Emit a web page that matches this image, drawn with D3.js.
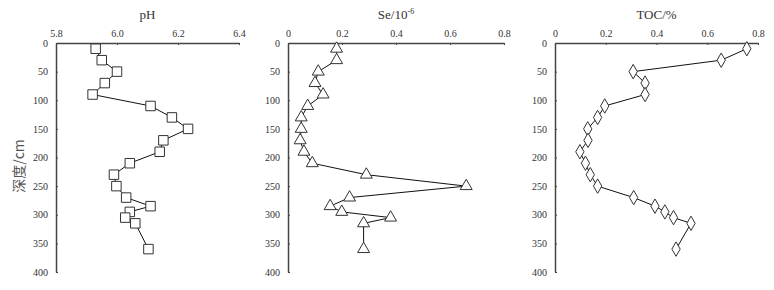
<!DOCTYPE html>
<html>
<head>
<meta charset="utf-8">
<script src="https://cdn.jsdelivr.net/npm/d3@7"></script>
<style>
  body { margin: 0; background: #fff; }
</style>
</head>
<body>
<div id="chart"></div>
<script>
const serif = "'Liberation Serif', 'DejaVu Serif', serif";

// depth of each sample (cm)
const depths = [10, 30, 50, 70, 90, 110, 130, 150, 170, 190, 210, 230, 250, 270, 285, 295, 305, 315, 360];

const phValues = [5.93, 5.95, 6.0, 5.96, 5.92, 6.11, 6.18, 6.233, 6.152, 6.14, 6.042, 5.99, 5.998, 6.03, 6.11, 6.042, 6.027, 6.06, 6.103];
const seValues = [0.18, 0.18, 0.112, 0.10, 0.13, 0.073, 0.049, 0.049, 0.045, 0.059, 0.09, 0.29, 0.66, 0.228, 0.156, 0.199, 0.38, 0.28, 0.28];
const tocValues = [0.756, 0.655, 0.308, 0.355, 0.355, 0.196, 0.168, 0.129, 0.13, 0.098, 0.12, 0.139, 0.168, 0.31, 0.394, 0.433, 0.467, 0.536, 0.477];

const depthTicks = [0, 50, 100, 150, 200, 250, 300, 350, 400];
const phTicks = [5.8, 6.0, 6.2, 6.4];
const concTicks = [0, 0.2, 0.4, 0.6, 0.8];

const width = 774, height = 290;
const svg = d3.select("#chart").append("svg")
  .attr("width", width)
  .attr("height", height);

const y = d3.scaleLinear().domain([0, 400]).range([43, 272]);

const concFmt = d => d === 0 ? "0" : d3.format(".1f")(d);

const panels = [
  { title: "pH", values: phValues, domain: [5.8, 6.4], ticks: phTicks, fmt: d3.format(".1f"), x0: 56, x1: 239, marker: "square" },
  { title: "Se", values: seValues, domain: [0, 0.8], ticks: concTicks, fmt: concFmt, x0: 288, x1: 504, marker: "triangle" },
  { title: "TOC/%", values: tocValues, domain: [0, 0.8], ticks: concTicks, fmt: concFmt, x0: 555, x1: 758, marker: "diamond" }
];

const symbols = {
  square: d3.symbol().type(d3.symbolSquare).size(90),
  triangle: d3.symbol().type(d3.symbolTriangle).size(62),
  diamond: d3.symbol().type(d3.symbolDiamond).size(60)
};

panels.forEach((p) => {
  const x = d3.scaleLinear().domain(p.domain).range([p.x0, p.x1]);
  const g = svg.append("g");

  // top axis
  const top = g.append("g")
    .attr("transform", `translate(0,${y(0)})`)
    .call(d3.axisTop(x).tickValues(p.ticks).tickFormat(p.fmt).tickSizeInner(-2).tickSizeOuter(0).tickPadding(6));
  top.attr("font-family", serif);
  top.select(".domain").attr("stroke", "#444").attr("stroke-width", 1.5);
  top.selectAll(".tick line").attr("stroke", "#444");
  top.selectAll("text").attr("font-size", 10).style("font-family", serif).attr("fill", "#333");

  // left axis
  const left = g.append("g")
    .attr("transform", `translate(${p.x0},0)`)
    .call(d3.axisLeft(y).tickValues(depthTicks).tickSizeInner(-2).tickSizeOuter(0).tickPadding(8));
  left.attr("font-family", serif);
  left.select(".domain").attr("stroke", "#444").attr("stroke-width", 1.5);
  left.selectAll(".tick line").attr("stroke", "#444");
  left.selectAll("text").attr("font-size", 10).style("font-family", serif).attr("fill", "#333");

  // title
  const cx = (p.x0 + p.x1) / 2;
  const t = g.append("text")
    .attr("x", cx)
    .attr("y", 19)
    .attr("text-anchor", "middle")
    .attr("font-size", 13)
    .style("font-family", serif)
    .attr("fill", "#333");
  if (p.title === "Se") {
    t.append("tspan").text("Se/10");
    t.append("tspan").attr("dy", -5).attr("font-size", 8).text("-6");
  } else {
    t.text(p.title);
  }

  const pts = depths.map((d, k) => [x(p.values[k]), y(d)]);

  g.append("path")
    .attr("d", d3.line()(pts))
    .attr("fill", "none")
    .attr("stroke", "#111")
    .attr("stroke-width", 1);

  g.selectAll(".m")
    .data(pts)
    .enter().append("path")
    .attr("transform", d => `translate(${d[0]},${d[1]})`)
    .attr("d", symbols[p.marker])
    .attr("fill", "#fff")
    .attr("stroke", "#333")
    .attr("stroke-width", 1);
});

// y label
svg.append("text")
  .attr("transform", "translate(24,166) rotate(-90)")
  .attr("text-anchor", "middle")
  .attr("font-size", 14)
  .style("font-family", "'Noto Sans CJK SC', 'Noto Sans', sans-serif")
  .attr("fill", "#555")
  .text("深度/cm");
</script>
</body>
</html>
